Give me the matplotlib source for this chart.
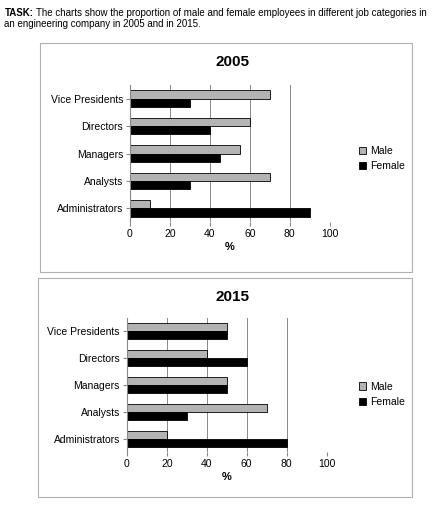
import numpy as np
import matplotlib.pyplot as plt
from matplotlib.patches import Rectangle

categories = ["Administrators", "Analysts", "Managers", "Directors", "Vice Presidents"]
male_2005 = [10, 70, 55, 60, 70]
female_2005 = [90, 30, 45, 40, 30]
male_2015 = [20, 70, 50, 40, 50]
female_2015 = [80, 30, 50, 60, 50]

fig = plt.figure(figsize=(4.42, 5.12), dpi=100)
fig.text(0.01, 0.985, "TASK:", fontsize=7, fontweight="bold", va="top", family="Liberation Sans")
fig.text(0.082, 0.985, "The charts show the proportion of male and female employees in different job categories in",
         fontsize=7, va="top", family="Liberation Sans")
fig.text(0.01, 0.963, "an engineering company in 2005 and in 2015.", fontsize=7, va="top", family="Liberation Sans")

boxes = [(0.090, 0.469, 0.842, 0.447), (0.086, 0.029, 0.846, 0.428)]
for b in boxes:
    fig.patches.append(Rectangle(b[:2], b[2], b[3], transform=fig.transFigure,
                                 fill=False, edgecolor="#b0b0b0", lw=0.8))

# title, male, female, axes rect, title y, legend y
panels = [
    ("2005", male_2005, female_2005, [0.294, 0.566, 0.452, 0.268], 0.879, 0.69),
    ("2015", male_2015, female_2015, [0.287, 0.117, 0.452, 0.262], 0.420, 0.23),
]

y = np.arange(len(categories))
h = 0.3
for title, male, female, rect, ty, ly in panels:
    ax = fig.add_axes(rect)
    ax.barh(y + h / 2, male, h, color="#b3b3b3", edgecolor="black", lw=0.6, label="Male")
    ax.barh(y - h / 2, female, h, color="black", edgecolor="black", lw=0.6, label="Female")
    ax.set_xlim(0, 100)
    ax.set_ylim(-0.5, len(categories) - 0.5)
    ax.set_xticks(range(0, 101, 20))
    ax.set_yticks(y)
    ax.set_yticklabels(categories, fontsize=7.5, family="Liberation Sans")
    for lbl in ax.get_xticklabels():
        lbl.set_fontsize(7.5)
        lbl.set_family("Liberation Sans")
    ax.grid(axis="x", color="#888888", lw=0.7)
    ax.set_axisbelow(True)
    for s in ["top", "right", "bottom"]:
        ax.spines[s].set_visible(False)
    ax.spines["left"].set_color("#888888")
    ax.tick_params(length=3, color="#888888", pad=2)
    ax.set_xlabel("%", fontsize=8, fontweight="bold", family="Liberation Sans", labelpad=2)
    fig.text(0.525, ty, title, fontsize=11, fontweight="bold", ha="center", va="center",
             family="Liberation Sans")
    fig.legend(*ax.get_legend_handles_labels(), loc="center left", bbox_to_anchor=(0.79, ly),
               frameon=False, handlelength=0.7, handleheight=0.7,
               prop={"family": "Liberation Sans", "size": 7.5}, labelspacing=0.5, handletextpad=0.4)

fig.savefig("out.png", dpi=100)
